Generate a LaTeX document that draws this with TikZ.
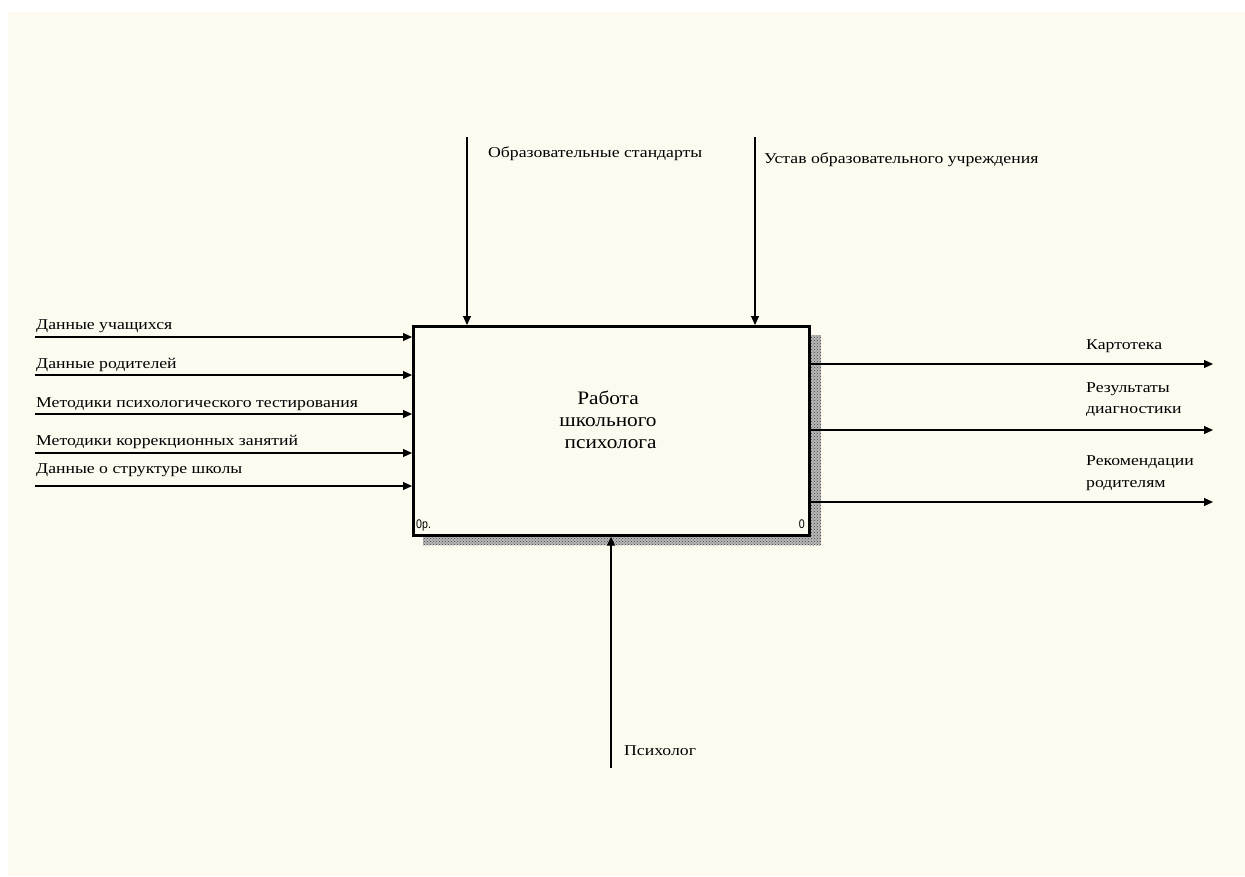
\documentclass[tikz,border=0pt]{standalone}
\usepackage{fontspec}
\setmainfont{Liberation Serif}
\newfontfamily\labelfont{Liberation Serif}[FakeStretch=1.18]
\newfontfamily\titlefont{Liberation Serif}[FakeStretch=1.12]
\newfontfamily\cornerfont{Liberation Sans}[FakeStretch=0.85]
\usetikzlibrary{arrows.meta,patterns}
\definecolor{paper}{HTML}{FDFAF0}
\begin{document}
\begin{tikzpicture}[x=1pt,y=-1pt,
  flow/.style={line width=1.1pt,-{Triangle[length=9pt,width=8pt]}},
  lbl/.style={anchor=base west,inner sep=0pt,font=\labelfont\fontsize{15}{16}\selectfont},
  corner/.style={inner sep=0pt,font=\cornerfont\fontsize{12.5}{13}\selectfont},
  shade/.style={fill=black!28,postaction={pattern=crosshatch dots,pattern color=black!75}}]
\useasboundingbox (0,0) rectangle (1245,876);
\fill[white] (0,0) rectangle (1245,876);
\fill[paper] (8,12) rectangle (1245,876);

% shadow of the activity box
\fill[shade] (808,335) rectangle (821,545);
\fill[shade] (423,534) rectangle (821,545);

% activity box
\node[draw,line width=2.7pt,fill=paper,minimum width=396pt,minimum height=209pt,
      inner sep=0pt,anchor=north west] (box) at (412,325) {};
\node[align=center,font=\titlefont\fontsize{19}{22}\selectfont] (title) at (608,420)
  {Работа\\школьного\\\ психолога};
\node[corner,anchor=base west] (num) at (416,528) {0р.};
\node[corner,anchor=base east] (nod) at (805,528) {0};

% controls
\coordinate (c1) at (467,137);
\coordinate (c2) at (755,137);
\draw[flow] (c1) -- (c1 |- box.north);
\draw[flow] (c2) -- (c2 |- box.north);
\node[lbl] (lc1) at (488,157) {Образовательные стандарты};
\node[lbl] (lc2) at (764,163) {Устав образовательного учреждения};

% inputs
\foreach \y/\t/\b in {337/{Данные учащихся}/329,
                      375/{Данные родителей}/368,
                      414/{Методики психологического тестирования}/407,
                      453/{Методики коррекционных занятий}/445,
                      486/{Данные о структуре школы}/473}{
  \coordinate (i\y) at (35,\y);
  \draw[flow] (i\y) -- (i\y -| box.west);
  \node[lbl] (li\y) at (36,\b) {\t};
}

% outputs
\foreach \y in {364,430,502}{
  \coordinate (o\y) at (1213,\y);
  \draw[flow] (o\y -| box.east) -- (o\y);
}
\node[lbl] (lo1) at (1086,349) {Картотека};
\node[lbl] (lo2) at (1086,392) {Результаты};
\node[lbl] (lo2b) at (1086,413) {диагностики};
\node[lbl] (lo3) at (1086,465) {Рекомендации};
\node[lbl] (lo3b) at (1086,487) {родителям};

% mechanism
\coordinate (m) at (611,768);
\draw[flow] (m) -- (m |- box.south);
\node[lbl] (lm) at (624,755) {Психолог};
\end{tikzpicture}
\end{document}
